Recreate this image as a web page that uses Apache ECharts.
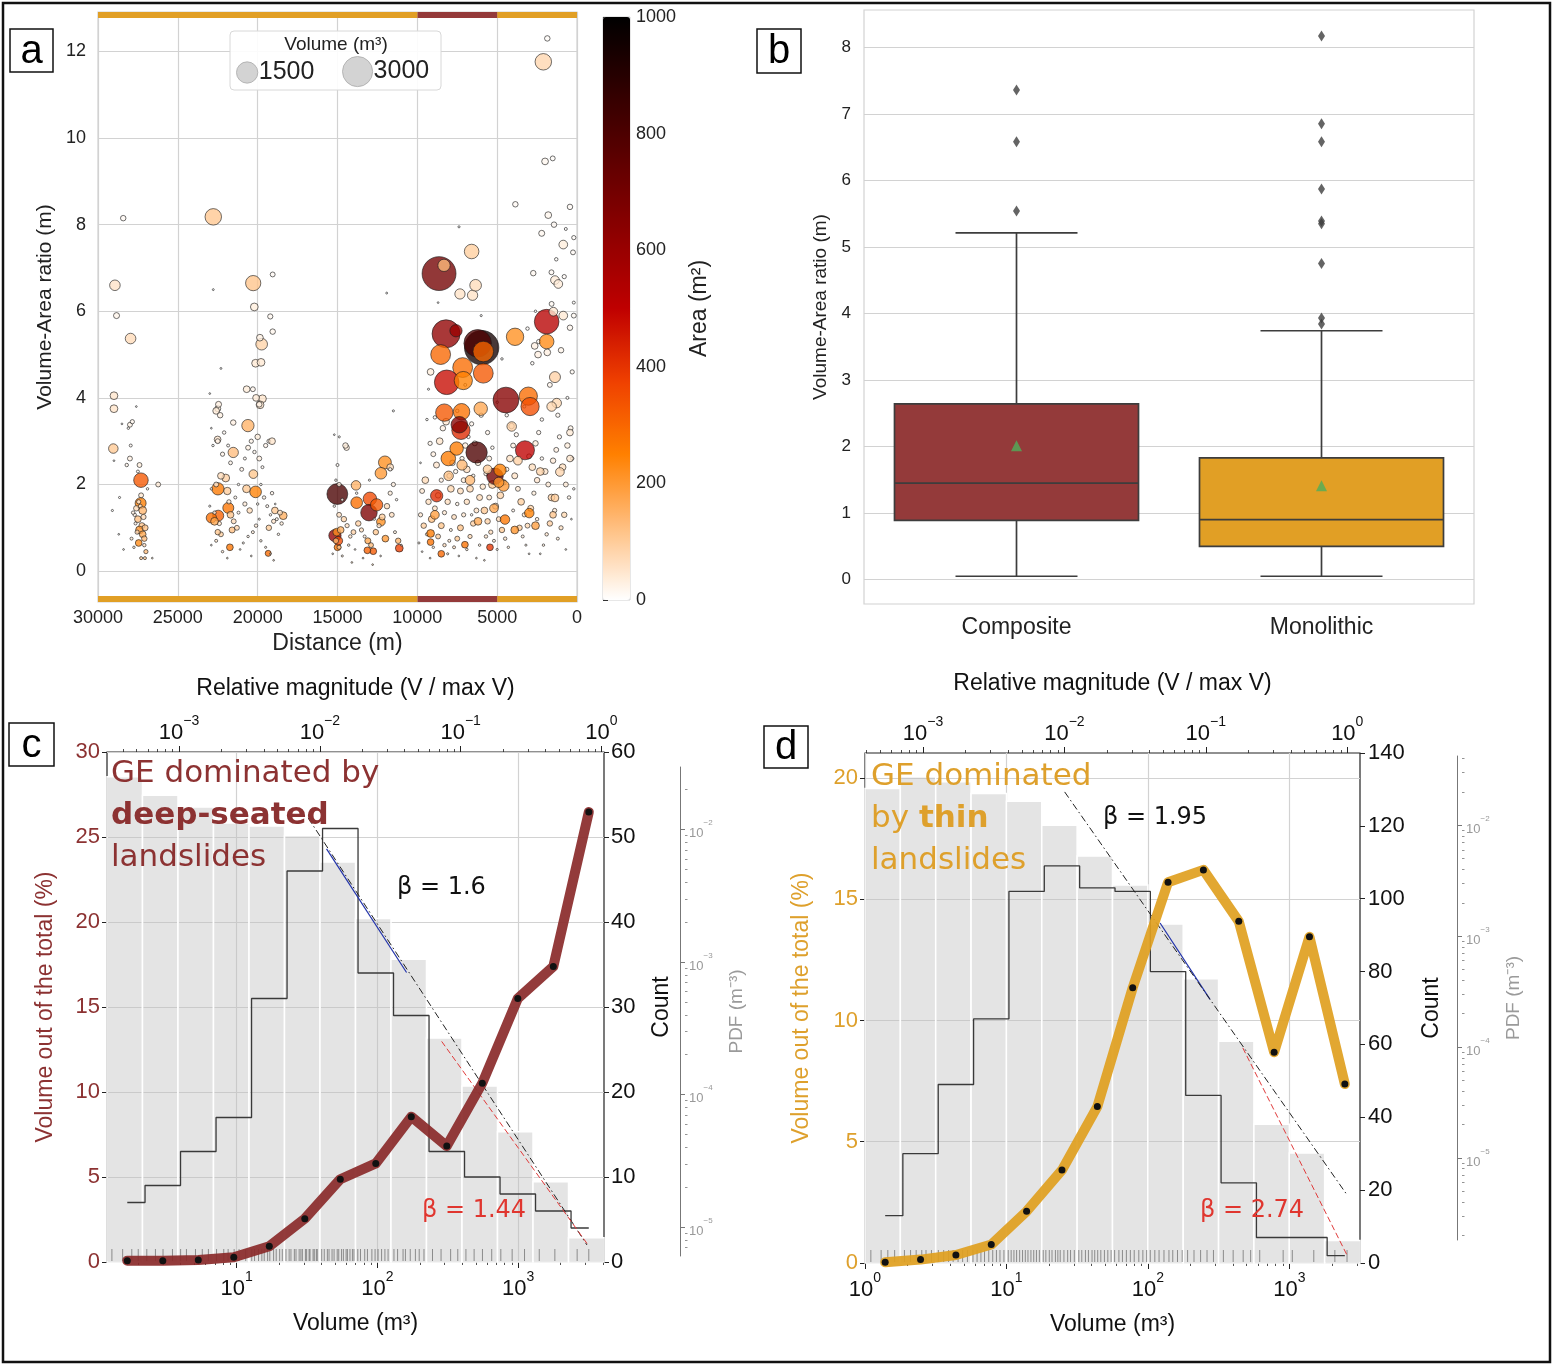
<!DOCTYPE html>
<html><head><meta charset="utf-8">
<script src="https://cdn.jsdelivr.net/npm/echarts@6/dist/echarts.min.js"></script>
<style>html,body{margin:0;padding:0;background:#fff}#c{width:1554px;height:1366px}</style>
</head><body><div id="c"></div>
<script>
// ---------------- Panel a ----------------
const aXTicks = [0, 5000, 10000, 15000, 20000, 25000, 30000];
const aYTicks = [0, 2, 4, 6, 8, 10, 12];
const aColorTicks = [0, 200, 400, 600, 800, 1000];
const aLegendVolumes = [1500, 3000];
const aSegments = [[0, 5000, 'Monolithic'], [5000, 10000, 'Composite'], [10000, 30000, 'Monolithic']];
// [distance (m), volume-area ratio (m), volume (m3), area (m2)]
const aPointsFar = [
 [28420,8.15,100,12],[28940,6.6,370,56],[28840,5.9,120,20],[27960,5.37,370,70],[29000,4.05,200,50],
 [29000,3.75,200,53],[28000,3.38,80,24],[29040,2.83,300,106],[27310,2.1,700,330],[27330,1.57,400,255],
 [26230,2.0,80,40],[27060,0.3,30,100],
 [28200,2.45,40,20],[28000,2.6,80,30],[27950,2.9,30,12],[28100,3.3,20,8],[27850,3.45,60,18],[27500,2.3,30,14],
 [27400,2.45,80,34],[27300,1.75,80,45],[27450,1.6,60,38],[27600,1.45,100,70],[27700,1.3,40,30],[27500,1.2,150,125],
 [27250,1.05,120,115],[27400,0.95,200,210],[27200,0.85,150,175],[27550,0.9,60,66],[27100,0.75,100,133],
 [27650,1.1,30,27],[27800,1.35,40,30],[27350,1.5,50,33],[27150,1.25,90,72],[27050,1.0,120,120],[27100,0.6,40,66],
 [27000,0.45,60,133],[27300,0.3,30,100],[26900,1.9,20,10],[29100,1.4,15,10],[28700,0.85,10,11],[28400,0.5,10,20],
 [29000,2.55,10,4],[28650,1.7,15,9],[27600,3.8,10,3],[28500,3.4,10,3],[26600,0.3,10,33],[27900,0.75,30,40],
 [27750,0.55,20,36],[27450,0.65,150,230],[27200,1.4,200,143]
];
const aPointsMid = [
 [22780,8.18,900,110],[22780,6.5,12,2],[20280,6.65,770,115],[19060,6.85,80,12],[20210,6.1,200,33],[19210,5.88,90,15],
 [19060,5.53,100,18],[19750,5.24,450,86],[19860,5.39,150,28],[20130,4.8,200,42],[19790,4.82,200,42],[22300,4.68,12,3],
 [19700,3.98,200,50],[19850,3.84,200,52],[20690,4.2,150,36],[20610,3.36,500,150],[21530,3.43,100,29],[22500,3.75,120,32],
 [21530,2.74,350,128],[22510,3.04,150,49],[22490,1.9,500,263],[22470,1.28,400,312],[22900,1.23,350,285],[21840,1.46,400,274],
 [21740,0.55,150,272],[20130,1.83,450,246],[20270,2.24,250,112],[19340,0.41,120,293],[18400,1.28,200,156],[18920,1.4,150,107],
 [23000,4.1,10,2],[22900,3.3,10,3],[22600,3.7,150,40],[22450,3.85,120,31],[22350,3.6,100,28],[22500,3.0,80,27],
 [22800,2.9,20,7],[22200,2.7,60,22],[22100,3.2,40,12],[21850,2.9,30,10],[21700,2.5,50,20],[22000,2.15,200,93],
 [22300,2.2,150,68],[22600,2.0,80,40],[22900,1.9,20,10],[23000,1.5,15,10],[22700,1.35,40,30],[22400,1.1,60,55],
 [22300,0.85,80,94],[22600,0.7,30,43],[22900,0.6,10,17],[22200,0.45,20,44],[21900,0.3,10,33],[21600,0.95,120,126],
 [21500,1.15,80,70],[21800,1.6,60,38],[21400,1.7,30,18],[21200,2.0,20,10],[21000,2.35,50,21],[20800,2.6,30,12],
 [20600,2.85,80,28],[20400,3.0,60,20],[20200,2.75,40,15],[20000,3.1,100,32],[19900,2.6,80,31],[19700,2.4,30,12],
 [19500,2.9,60,21],[19300,3.0,50,17],[19800,2.0,20,10],[19600,1.7,40,24],[19400,1.5,30,20],[19200,1.3,20,15],
 [19000,1.15,60,52],[18800,1.2,30,25],[18600,1.35,80,60],[18500,1.1,40,36],[19900,1.2,15,12],[20100,1.05,40,38],
 [20300,0.9,30,33],[20600,0.8,20,25],[20900,0.65,15,23],[21100,0.5,10,20],[19800,0.7,20,28],[19500,0.55,15,27],
 [19200,0.4,10,25],[20500,1.4,100,71],[20800,1.55,60,39],[21200,1.35,30,22],[20000,1.55,20,13],[19100,1.8,40,22],
 [18900,1.55,10,6],[20400,0.35,10,28],[19000,0.25,10,40],[22700,1.15,200,174],[22500,0.9,100,111],[21700,1.3,150,115],
 [21300,1.0,80,80],[20700,1.9,200,105],[21900,1.85,180,97],[19300,1.0,100,100],[18700,0.85,20,23],[20100,4.0,150,37],
 [19900,3.85,100,26],[20300,4.2,80,19],[19100,3.0,150,50]
];
const aPointsNear = [
 [15010,1.78,1440,810],[15160,0.82,500,610],[13800,1.58,450,285],[13840,1.98,300,150],[12970,1.67,600,360],
 [13030,1.35,900,670],[12550,1.53,500,330],[12030,2.51,550,220],[12280,2.26,450,200],[11700,2.4,150,63],
 [12280,1.14,250,220],[11130,0.53,200,380],[12760,0.46,150,326],[13130,0.48,150,312],[14430,2.85,100,35],
 [14890,3.1,15,5],[11500,3.7,15,4],[11920,6.42,12,2],[15000,0.55,150,273],[14950,0.7,250,357],[15050,0.9,200,222],
 [15200,3.15,10,3],[15000,2.45,30,12],[14500,2.9,100,34],[15100,2.1,20,10],[14900,2.0,60,30],[14700,1.65,30,18],
 [15200,1.5,20,13],[14900,1.3,80,62],[14600,1.2,100,83],[14400,1.05,60,57],[14800,0.95,150,158],[15100,0.7,100,143],
 [14900,0.55,60,109],[15300,0.4,10,25],[14700,0.35,15,43],[14300,0.6,20,33],[14200,0.8,40,50],[14000,0.9,80,89],
 [13700,1.1,100,91],[13500,0.95,60,63],[13300,0.8,30,37],[13100,0.7,120,171],[12900,0.6,80,133],[12600,0.9,100,111],
 [12400,1.05,60,57],[12200,1.25,120,96],[11900,1.5,100,67],[11700,1.8,60,33],[11600,1.3,80,62],[11400,0.9,30,33],
 [11200,0.7,100,143],[12000,0.75,150,200],[12700,1.2,20,17],[13900,0.5,10,20],[13400,0.3,10,33],[12300,0.35,10,29],
 [13800,1.8,20,11],[13000,2.1,15,7],[11700,2.35,40,17],[11500,2.0,60,30],[11300,1.65,20,12],[11000,0.6,10,17],
 [14100,0.2,10,50],[12800,0.15,10,67]
];
const aPointsValleySmall = [
 [9700,1.85,80,43],[9500,2.1,150,71],[9300,1.6,100,63],[9800,1.3,60,46],[9600,1.05,100,95],[9400,0.85,30,35],
 [9900,0.65,15,23],[9700,0.45,10,22],[9200,0.3,10,33],[9100,1.2,150,125],[8900,1.45,80,55],[8700,1.75,100,57],
 [8500,2.1,60,29],[8800,2.45,120,49],[9000,2.7,80,30],[9200,2.95,60,20],[8600,3.0,150,50],[8400,3.3,100,30],
 [8200,3.45,150,43],[8900,3.55,40,11],[8000,2.2,80,36],[7800,2.5,100,40],[7600,2.3,60,26],[7900,1.9,150,79],
 [8100,1.6,100,63],[8300,1.35,60,44],[8500,1.05,120,114],[8700,0.8,80,100],[8300,0.6,40,67],[8100,0.4,15,38],
 [7900,0.95,30,32],[7700,1.25,80,64],[7500,1.55,40,26],[7300,1.85,120,65],[7100,2.1,80,38],[6900,2.35,150,64],
 [7200,2.6,60,23],[7000,2.9,100,34],[6800,3.1,40,13],[6600,3.4,60,18],[6400,2.95,80,27],[6200,2.5,100,40],
 [6500,2.2,40,18],[6700,1.9,150,79],[6900,1.6,100,63],[7100,1.3,60,46],[7300,1.0,120,120],[7500,0.75,80,107],
 [7700,0.55,30,55],[7400,0.35,10,29],[6900,0.5,20,40],[6700,0.8,60,75],[6500,1.1,100,91],[6300,1.4,80,57],
 [6100,1.7,120,71],[5900,1.95,100,51],[5700,2.25,60,27],[5500,2.6,80,31],[5300,2.85,40,14],[5600,3.2,60,19],
 [5800,1.4,150,107],[5600,1.15,100,87],[5400,0.9,60,67],[5200,0.7,30,43],[5000,0.5,15,30],[6100,0.6,20,33],
 [6300,0.3,10,33],[5800,0.25,10,40],[5500,1.7,80,47],[5300,2.0,200,100],[5100,1.5,120,80],[4900,1.2,80,67],
 [4700,0.95,100,105],[4500,0.75,40,53],[4300,0.55,20,36],[4800,1.75,150,86],[4600,2.05,100,49],[4400,2.35,60,26],
 [4200,2.6,150,58],[4000,2.9,80,28],[3800,3.15,60,19],[4100,3.35,100,30],[4400,3.6,40,11],[3900,2.2,120,55],
 [3700,1.9,80,42],[3500,1.6,150,94],[3300,1.3,60,46],[3600,1.0,100,100],[3400,0.8,30,38],[3200,0.6,15,25],
 [3000,0.4,10,25],[3100,1.05,80,76],[2900,1.45,120,83],[2700,1.8,60,33],[2500,2.1,100,48],[2800,2.4,150,63],
 [3000,2.65,80,30],[2600,2.95,100,34],[2400,3.2,60,19],[2200,2.6,40,15],[2000,2.3,120,52],[1800,2.0,80,40],
 [1600,1.7,150,88],[1400,1.4,60,43],[1700,1.1,100,91],[1900,0.85,40,47],[2100,0.6,20,33],[2300,0.4,10,25],
 [1500,2.55,100,39],[1300,2.8,80,29],[1100,3.1,60,19],[900,2.4,150,63],[700,2.0,80,40],[500,1.7,40,24],
 [800,1.3,100,77],[1000,1.0,60,60],[1200,0.75,30,40],[600,2.9,100,34],[400,3.3,80,24],[300,2.6,40,15],
 [200,1.9,20,11],[350,1.2,10,8],[700,0.5,10,20],[2500,1.2,40,33],[4000,1.4,30,21],[5700,0.8,40,50],
 [6600,1.3,20,15],[8000,0.7,30,43],[9000,0.55,20,36],[2200,3.5,40,11],[1200,3.6,60,17],[3300,3.8,30,8],
 [5000,3.9,20,5],[6000,3.6,60,17],[7500,3.7,40,11],[9400,3.5,20,6],[9800,2.5,10,4],[600,4.0,30,8],
 [1700,4.3,80,19],[2800,4.8,40,8],[4700,4.9,20,4],[300,4.6,60,13],[1000,5.1,100,20],[2400,5.3,60,11],
 [3100,5.6,40,7],[800,6.8,60,9],[200,6.2,30,5],[2600,6.0,20,3],[1600,6.9,80,12],[6000,5.9,15,3],
 [9300,4.2,15,4],[7000,4.3,30,7],[8700,6.2,10,2],[1300,7.2,40,6],[700,7.9,30,4]
];
const aPointsValleyLarge = [
 [8640,6.87,3800,700],[8330,7.06,500,130],[6600,7.38,700,95],[7330,6.4,350,55],[6540,6.37,350,55],[6350,6.6,450,68],
 [8200,5.48,2600,620],[7580,5.55,500,600],[8540,5.0,1300,300],[5970,5.16,3900,950],[6220,5.26,2500,800],
 [5870,5.07,1400,300],[7160,4.7,1300,290],[5870,4.57,1300,330],[8160,4.36,2000,480],[7120,4.4,1100,250],
 [9170,4.6,150,33],[4450,3.95,2200,650],[3050,4.04,1100,290],[2940,3.8,1100,350],[3880,5.41,1000,220],
 [1900,5.76,2000,520],[1900,5.3,700,230],[2110,11.76,900,80],[1860,12.3,100,8],[2000,9.46,150,16],[1520,9.53,80,8],
 [3860,8.47,100,12],[1800,8.22,150,18],[1440,8.0,100,12],[440,8.41,100,12],[2210,7.8,120,15],[860,7.54,250,33],
 [2740,6.88,100,15],[1380,6.72,250,37],[1170,6.63,250,38],[7390,7.95,15,2],[1480,5.99,250,42],[860,5.9,250,42],
 [8310,3.66,1000,330],[7230,3.68,900,280],[7270,3.25,1100,420],[7370,3.38,900,650],[6030,3.75,600,170],
 [6290,2.74,1500,800],[8060,2.6,700,260],[7540,2.83,600,260],[3260,2.79,1200,500],[4090,3.34,300,90],
 [5140,2.19,900,700],[4820,2.33,500,250],[4600,1.97,400,200],[4900,2.05,350,210],[8790,1.74,500,420],
 [2990,1.34,300,250],[4510,1.19,300,270],[9170,0.87,200,260],[9170,0.67,150,280],[7020,0.61,150,280],
 [5450,0.55,150,400],[1070,2.29,250,80],[1380,1.69,200,100],[440,3.2,150,40],[440,2.6,150,50],[250,7.36,80,11],
 [200,7.7,60,8],[200,5.9,80,13],[1270,3.88,300,77],[1590,3.8,300,79],[1380,4.48,400,89],[2440,5.0,150,30],
 [2650,5.2,150,30],[1860,5.05,150,30],[1590,6.17,80,13],[440,5.62,100,18],[8040,2.2,300,120],[7200,2.45,350,140],
 [6700,2.1,300,140],[5600,2.35,250,100],[3700,2.55,250,90],[2300,2.3,200,85],[8900,1.3,250,190],[8500,0.4,150,300],
 [6200,1.15,200,170],[5200,1.45,250,170],[3900,0.95,200,210],[2600,1.05,200,190],[1500,1.3,150,115]
];

// ---------------- Panel b ----------------
const bCategories = ['Composite', 'Monolithic'];
const bYTicks = [0, 1, 2, 3, 4, 5, 6, 7, 8];
// [lower whisker, Q1, median, Q3, upper whisker]
const bBoxStats = [[0.05, 0.89, 1.45, 2.64, 5.21], [0.05, 0.5, 0.9, 1.83, 3.74]];
const bMeans = [2.01, 1.41];
const bOutliersComposite = [5.54, 6.58, 7.36];
const bOutliersMonolithic = [3.84, 3.93, 4.75, 5.35, 5.39, 5.87, 6.58, 6.85, 8.17];

// ---------------- Panel c (Composite) ----------------
const cBinEdges = [1.2, 2.144, 3.832, 6.848, 12.24, 21.87, 39.08, 69.85, 124.8, 223.0, 398.6, 712.3, 1273, 2275, 4065];
const cBinCenters = [1.672, 2.988, 5.34, 9.544, 17.06, 30.48, 54.47, 97.3, 173.9, 310.8, 555.5, 992.7, 1774, 3170];
const cCounts = [7, 9, 13, 17, 31, 46, 51, 34, 29, 13, 10, 8, 6, 4];
const cVolumePct = [0.08, 0.08, 0.12, 0.28, 0.93, 2.55, 4.87, 5.8, 8.55, 6.82, 10.52, 15.5, 17.38, 26.47];
const cPdf = [0.02506, 0.01818, 0.01483, 0.01122, 0.01065, 0.00904, 0.00569, 0.002137, 0.00105, 0.000267, 0.0001161, 0.0000525, 0.000022, 0.00000832];
const cFitAll = [[32.2, 0.01225], [3076, 0.00000733]];
const cFitCore = [[43.5, 0.00716], [161, 0.000834]];
const cFitTail = [[285.8, 0.000252], [3090, 0.00000748]];
const cRug = [1.3,1.55,1.8,2.0,2.3,2.65,3.0,3.5,4.0,4.4,5.1,5.7,6.3,7.2,8.1,8.7,9.6,10.4,11.6,12.8,13.4,14.3,15.1,15.7,
 16.6,17.2,18.3,19.1,20.2,21.1,22.4,23.6,24.3,25.7,26.4,27.8,28.6,29.3,30.8,31.4,32.7,33.2,34.9,35.6,36.8,37.4,
 40.2,41.9,44.1,45.3,47.6,49.2,51.8,53.1,55.6,57.3,59.9,61.2,63.8,66.4,68.1,72.5,75.8,81.2,84.9,91.3,96.2,101,
 107,113,119,131,139,152,158,171,186,198,214,246,283,331,372,425,486,557,648,752,905,1108,1410,1820,2620,3170];

// ---------------- Panel d (Monolithic) ----------------
const dBinEdges = [1, 1.778, 3.162, 5.623, 10, 17.78, 31.62, 56.23, 100, 177.8, 316.2, 562.3, 1000, 1778, 3162];
const dBinCenters = [1.389, 2.47, 4.393, 7.812, 13.89, 24.7, 43.93, 78.12, 138.9, 247, 439.3, 781.2, 1389, 2470];
const dCounts = [13, 30, 49, 67, 102, 109, 103, 102, 80, 46, 22, 7, 7, 2];
const dVolumePct = [0.03, 0.14, 0.33, 0.76, 2.13, 3.83, 6.45, 11.35, 15.7, 16.21, 14.09, 8.69, 13.45, 7.38];
const dPdf = [0.02143, 0.02731, 0.0246, 0.01932, 0.01645, 0.00998, 0.00527, 0.00289, 0.001285, 0.000413, 0.0001125, 0.0000201, 0.0000111, 0.0000018];
const dFitAll = [[25.8, 0.01997], [2570, 0.00000461]];
const dFitCore = [[122, 0.001312], [275, 0.000269]];
const dFitTail = [[469, 0.0000982], [2570, 0.000001315]];
const dRug = [1.1,1.3,1.45,1.62,1.9,2.1,2.3,2.52,2.7,2.95,3.3,3.6,3.9,4.2,4.55,4.9,5.3,5.8,6.2,6.6,7.0,7.5,8.0,8.5,9.0,9.6,
 10.3,10.8,11.3,11.8,12.4,13.0,13.6,14.2,14.9,15.6,16.3,17.1,18.2,19.0,20.1,21.0,22.2,23.1,24.0,25.5,27.1,28.4,30.2,
 32.5,34.1,36.2,38.0,40.3,42.1,44.2,46.5,49.3,52.1,55.0,58.2,62.4,66.1,70.5,75.2,80.1,86.3,92.2,98.1,104,112,120,130,
 141,150,162,175,191,212,236,262,291,342,401,472,533,618,905,1050,1490,2100,2560];

// shared tick value lists
const logMajorBottomC = [10, 100, 1000];
const logMinorBottomC = [2,3,4,5,6,7,8,9,20,30,40,50,60,70,80,90,200,300,400,500,600,700,800,900,2000,3000,4000];
const logMajorBottomD = [1, 10, 100, 1000];
const logMinorBottomD = [2,3,4,5,6,7,8,9,20,30,40,50,60,70,80,90,200,300,400,500,600,700,800,900,2000,3000];
const relMajor = [0.001, 0.01, 0.1, 1];
const relMinor = [0.0004,0.0005,0.0006,0.0007,0.0008,0.0009,0.002,0.003,0.004,0.005,0.006,0.007,0.008,0.009,
 0.02,0.03,0.04,0.05,0.06,0.07,0.08,0.09,0.2,0.3,0.4,0.5,0.6,0.7,0.8,0.9];
const pdfMajor = [0.00001, 0.0001, 0.001, 0.01];
const pdfMinor = [0.000002,0.000003,0.000004,0.000005,0.000006,0.000007,0.000008,0.000009,
 0.00002,0.00003,0.00004,0.00005,0.00006,0.00007,0.00008,0.00009,0.0002,0.0003,0.0004,0.0005,0.0006,0.0007,0.0008,0.0009,
 0.002,0.003,0.004,0.005,0.006,0.007,0.008,0.009,0.02,0.03,0.04];
const cPctTicks = [0, 5, 10, 15, 20, 25, 30];
const dPctTicks = [0, 5, 10, 15, 20];
const cRelMax = 3900, dRelMax = 2570;

// ---------------- styling ----------------
const SANS = '"Liberation Sans", Arial, sans-serif';
const VERD = '"DejaVu Sans", Verdana, sans-serif';
const RED = '#8c3232', GOLD = '#dea02c', GRID = '#d2d2d2';
const heatR = ['#ffffff','#ffbf80','#ff8000','#ef4000','#bf0000','#8f0000','#600000','#300000','#000000'];
const kSize = 0.55;
const plain = v => String(v);

function supRich(size, color) {
  return {
    b: {fontSize: size, color: color, fontFamily: SANS, lineHeight: size + 8, verticalAlign: 'bottom'},
    s: {fontSize: Math.round(size * 0.64), color: color, fontFamily: SANS, lineHeight: size + 8, verticalAlign: 'top'}
  };
}
function pow10(v) {
  const e = Math.round(Math.log10(v));
  return '{b|10}{s|' + String(e).replace('-', '\u2212') + '}';
}

const chart = echarts.init(document.getElementById('c'));

function logX(gridIndex, min, max, major, minor, pos, extra) {
  return [Object.assign({
    gridIndex, type: 'log', logBase: 10, min, max, position: pos,
    axisLine: {show: false},
    axisTick: {show: true, customValues: major, length: 6, lineStyle: {color: '#222', width: 1}},
    axisLabel: {customValues: major, formatter: pow10, rich: supRich(22, '#111'), margin: 8},
    splitLine: {show: false}
  }, extra), {
    gridIndex, type: 'log', logBase: 10, min, max, position: pos,
    axisLine: {show: false},
    axisTick: {show: true, customValues: minor, length: 3, lineStyle: {color: '#222', width: 0.8}},
    axisLabel: {show: false}, splitLine: {show: false}
  }];
}

function pdfAxes(gridIndex, min, max) {
  return [{
    gridIndex, type: 'log', logBase: 10, min, max, position: 'right',
    axisLine: {show: true, lineStyle: {color: '#777', width: 1}},
    axisTick: {show: true, customValues: pdfMajor, length: 5, lineStyle: {color: '#777'}},
    axisLabel: {customValues: pdfMajor, formatter: pow10, rich: supRich(13, '#999'), margin: 4},
    splitLine: {show: false},
    name: 'PDF (m\u207B\u00B3)', nameLocation: 'middle', nameRotate: 90, nameGap: 42,
    nameTextStyle: {fontSize: 19, color: '#9a9a9a', fontFamily: SANS}
  }, {
    gridIndex, type: 'log', logBase: 10, min, max, position: 'right',
    axisLine: {show: false},
    axisTick: {show: true, customValues: pdfMinor, length: 2.5, lineStyle: {color: '#777', width: 0.8}},
    axisLabel: {show: false}, splitLine: {show: false}
  }];
}

const cXMin = cBinEdges[0], cXMax = cBinEdges[cBinEdges.length - 1];
const dXMin = dBinEdges[0], dXMax = dBinEdges[dBinEdges.length - 1];

const xAxes = [
  // 0 panel a
  {gridIndex: 0, type: 'value', min: 0, max: 30000, inverse: true,
   axisLine: {show: false}, axisTick: {show: false, customValues: aXTicks},
   axisLabel: {customValues: aXTicks, formatter: plain, fontSize: 18, color: '#222', fontFamily: SANS, margin: 7},
   splitLine: {show: true, lineStyle: {color: GRID, width: 1.2}},
   name: 'Distance (m)', nameLocation: 'middle', nameGap: 30,
   nameTextStyle: {fontSize: 23, color: '#222', fontFamily: SANS}},
  // 1 colorbar
  {gridIndex: 1, type: 'value', show: false, min: 0, max: 1},
  // 2 panel b
  {gridIndex: 2, type: 'category', data: bCategories, axisLine: {show: false}, axisTick: {show: false},
   axisLabel: {fontSize: 23, color: '#222', fontFamily: SANS, margin: 12}, splitLine: {show: false}},
  // 3,4 panel c bottom
  ...logX(3, cXMin, cXMax, logMajorBottomC, logMinorBottomC, 'bottom', {
    splitLine: {show: true, lineStyle: {color: GRID, width: 1.2}},
    name: 'Volume (m\u00B3)', nameLocation: 'middle', nameGap: 50,
    nameTextStyle: {fontSize: 23, color: '#111', fontFamily: SANS}}),
  // 5,6 panel c top
  ...logX(3, cXMin / cRelMax, cXMax / cRelMax, relMajor, relMinor, 'top', {
    name: 'Relative magnitude (V / max V)', nameLocation: 'middle', nameGap: 52,
    nameTextStyle: {fontSize: 23, color: '#111', fontFamily: SANS}}),
  // 7 c pdf grid
  {gridIndex: 4, type: 'value', show: false, min: 0, max: 1},
  // 8,9 panel d bottom
  ...logX(5, dXMin, dXMax, logMajorBottomD, logMinorBottomD, 'bottom', {
    splitLine: {show: true, lineStyle: {color: GRID, width: 1.2}},
    name: 'Volume (m\u00B3)', nameLocation: 'middle', nameGap: 50,
    nameTextStyle: {fontSize: 23, color: '#111', fontFamily: SANS}}),
  // 10,11 panel d top
  ...logX(5, dXMin / dRelMax, dXMax / dRelMax, relMajor, relMinor, 'top', {
    name: 'Relative magnitude (V / max V)', nameLocation: 'middle', nameGap: 58,
    nameTextStyle: {fontSize: 23, color: '#111', fontFamily: SANS}}),
  // 12 d pdf grid
  {gridIndex: 6, type: 'value', show: false, min: 0, max: 1}
];

const cPdfLo = 5.452e-6, cPdfHi = 0.03852, dPdfLo = 1.128e-6, dPdfHi = 0.0448;

const yAxes = [
  // 0 panel a
  {gridIndex: 0, type: 'value', min: -0.713, max: 12.91,
   axisLine: {show: false}, axisTick: {show: false, customValues: aYTicks},
   axisLabel: {customValues: aYTicks, fontSize: 18, color: '#222', fontFamily: SANS, margin: 12},
   splitLine: {show: true, lineStyle: {color: GRID, width: 1.2}},
   name: 'Volume-Area ratio (m)', nameLocation: 'middle', nameRotate: 90, nameGap: 42,
   nameTextStyle: {fontSize: 21, color: '#222', fontFamily: SANS}},
  // 1 colorbar
  {gridIndex: 1, type: 'value', min: 0, max: 1000, position: 'right',
   axisLine: {show: false}, axisTick: {show: true, customValues: aColorTicks, length: 5, lineStyle: {color: '#333'}},
   axisLabel: {customValues: aColorTicks, formatter: plain, fontSize: 18, color: '#222', fontFamily: SANS, margin: 6},
   splitLine: {show: false},
   name: 'Area (m\u00B2)', nameLocation: 'middle', nameRotate: 90, nameGap: 58,
   nameTextStyle: {fontSize: 23, color: '#222', fontFamily: SANS}},
  // 2 panel b
  {gridIndex: 2, type: 'value', min: -0.367, max: 8.561,
   axisLine: {show: false}, axisTick: {show: false, customValues: bYTicks},
   axisLabel: {customValues: bYTicks, fontSize: 17, color: '#222', fontFamily: SANS, margin: 13},
   splitLine: {show: true, lineStyle: {color: GRID, width: 1.2}},
   name: 'Volume-Area ratio (m)', nameLocation: 'middle', nameRotate: 90, nameGap: 34,
   nameTextStyle: {fontSize: 19, color: '#222', fontFamily: SANS}},
  // 3 c percent
  {gridIndex: 3, type: 'value', min: 0, max: 30, position: 'left',
   axisLine: {show: false}, axisTick: {show: true, customValues: cPctTicks, length: 5, lineStyle: {color: '#222'}},
   axisLabel: {customValues: cPctTicks, fontSize: 22, color: RED, fontFamily: SANS, margin: 7},
   splitLine: {show: true, lineStyle: {color: GRID, width: 1.2}},
   name: 'Volume out of the total (%)', nameLocation: 'middle', nameRotate: 90, nameGap: 50,
   nameTextStyle: {fontSize: 23, color: RED, fontFamily: SANS}},
  // 4 c count
  {gridIndex: 3, type: 'value', min: 0, max: 60, interval: 10, position: 'right',
   axisLine: {show: false}, axisTick: {show: true, length: 5, lineStyle: {color: '#222'}},
   axisLabel: {fontSize: 22, color: '#111', fontFamily: SANS, margin: 7},
   splitLine: {show: false},
   name: 'Count', nameLocation: 'middle', nameRotate: 90, nameGap: 46,
   nameTextStyle: {fontSize: 23, color: '#111', fontFamily: SANS}},
  // 5 c pdf (hidden, plotting)
  {gridIndex: 3, type: 'log', logBase: 10, min: cPdfLo, max: cPdfHi, show: false},
  // 6,7 c visible pdf axis
  ...pdfAxes(4, 6.05e-6, 0.02969),
  // 8 d percent
  {gridIndex: 5, type: 'value', min: 0, max: 21.03, position: 'left',
   axisLine: {show: false}, axisTick: {show: true, customValues: dPctTicks, length: 5, lineStyle: {color: '#222'}},
   axisLabel: {customValues: dPctTicks, fontSize: 22, color: GOLD, fontFamily: SANS, margin: 7},
   splitLine: {show: true, lineStyle: {color: GRID, width: 1.2}},
   name: 'Volume out of the total (%)', nameLocation: 'middle', nameRotate: 90, nameGap: 52,
   nameTextStyle: {fontSize: 23, color: GOLD, fontFamily: SANS}},
  // 9 d count
  {gridIndex: 5, type: 'value', min: 0, max: 140, interval: 20, position: 'right',
   axisLine: {show: false}, axisTick: {show: true, length: 5, lineStyle: {color: '#222'}},
   axisLabel: {fontSize: 22, color: '#111', fontFamily: SANS, margin: 8},
   splitLine: {show: false},
   name: 'Count', nameLocation: 'middle', nameRotate: 90, nameGap: 60,
   nameTextStyle: {fontSize: 23, color: '#111', fontFamily: SANS}},
  // 10 d pdf hidden
  {gridIndex: 5, type: 'log', logBase: 10, min: dPdfLo, max: dPdfHi, show: false},
  // 11,12 d visible pdf axis
  ...pdfAxes(6, 1.82e-6, 0.0421)
];

function barsSeries(xIdx, yIdx, edges, pdf) {
  return {
    type: 'custom', xAxisIndex: xIdx, yAxisIndex: yIdx, z: 1, silent: true,
    data: pdf.map((p, i) => [edges[i], edges[i + 1], p]),
    encode: {x: [0, 1], y: 2},
    renderItem: (params, api) => {
      const p0 = api.coord([api.value(0), api.value(2)]);
      const p1 = api.coord([api.value(1), api.value(2)]);
      const cs = params.coordSys;
      const bottom = cs.y + cs.height;
      return {type: 'rect', shape: {x: p0[0], y: p0[1], width: p1[0] - p0[0], height: bottom - p0[1]},
        style: {fill: 'rgba(190,190,190,0.42)', stroke: '#ffffff', lineWidth: 1.5}};
    }
  };
}
function rugSeries(xIdx, yIdx, values) {
  return {
    type: 'custom', xAxisIndex: xIdx, yAxisIndex: yIdx, z: 3, silent: true,
    data: values.map(v => [v]), encode: {x: 0},
    renderItem: (params, api) => {
      const x = api.coord([api.value(0), 1])[0];
      const cs = params.coordSys;
      const b = cs.y + cs.height;
      return {type: 'line', shape: {x1: x, y1: b - 1, x2: x, y2: b - 13},
        style: {stroke: 'rgba(30,30,30,0.45)', lineWidth: 1}};
    }
  };
}
function lineSeries(xIdx, yIdx, data, color, width, type, z) {
  return {type: 'line', xAxisIndex: xIdx, yAxisIndex: yIdx, data, symbol: 'none', silent: true, z: z || 4,
    lineStyle: {color, width, type: type || 'solid'}};
}
function volSeries(xIdx, yIdx, centers, pct, color) {
  return {type: 'line', xAxisIndex: xIdx, yAxisIndex: yIdx, z: 8, silent: true,
    data: centers.map((c, i) => [c, pct[i]]),
    symbol: 'circle', symbolSize: 7, itemStyle: {color: '#111'},
    lineStyle: {color, width: 10, opacity: 0.92, cap: 'round', join: 'round'}};
}
function stepSeries(xIdx, yIdx, centers, counts) {
  return {type: 'line', xAxisIndex: xIdx, yAxisIndex: yIdx, z: 5, silent: true, step: 'middle',
    data: centers.map((c, i) => [c, counts[i]]), symbol: 'none',
    lineStyle: {color: '#3a3a3a', width: 1.3}};
}

const aAll = [].concat(aPointsFar, aPointsMid, aPointsNear, aPointsValleySmall, aPointsValleyLarge);
const bColors = ['#943a3a', '#e19f25'];

const series = [
  // 0 scatter
  {type: 'scatter', xAxisIndex: 0, yAxisIndex: 0, data: aAll, silent: true, z: 3,
   symbolSize: v => kSize * Math.sqrt(v[2]),
   itemStyle: {opacity: 0.78, borderColor: '#1a1a1a', borderWidth: 0.8}},
  // 1,2 legend dummies
  {type: 'scatter', name: String(aLegendVolumes[0]), xAxisIndex: 0, yAxisIndex: 0, data: [], itemStyle: {color: '#c4c4c4'}},
  {type: 'scatter', name: String(aLegendVolumes[1]), xAxisIndex: 0, yAxisIndex: 0, data: [], itemStyle: {color: '#c4c4c4'}},
  // 3 segments top/bottom
  {type: 'custom', xAxisIndex: 0, yAxisIndex: 0, z: 6, silent: true,
   data: aSegments.map(s => [s[0], s[1], s[2] === 'Composite' ? 0 : 1]), encode: {x: [0, 1]},
   renderItem: (params, api) => {
     const x0 = api.coord([api.value(0), 0])[0], x1 = api.coord([api.value(1), 0])[0];
     const cs = params.coordSys;
     const fill = bColors[api.value(2)];
     const l = Math.min(x0, x1), w = Math.abs(x1 - x0);
     return {type: 'group', children: [
       {type: 'rect', shape: {x: l, y: cs.y, width: w, height: 6}, style: {fill}},
       {type: 'rect', shape: {x: l, y: cs.y + cs.height - 6, width: w, height: 6}, style: {fill}}
     ]};
   }},
  // 4 boxes
  {type: 'custom', xAxisIndex: 2, yAxisIndex: 2, z: 3, silent: true,
   data: bBoxStats.map((s, i) => [i].concat(s)), encode: {x: 0, y: [1, 2, 3, 4, 5]},
   renderItem: (params, api) => {
     const i = api.value(0);
     const P = k => api.coord([i, api.value(k)]);
     const pMin = P(1), pQ1 = P(2), pMed = P(3), pQ3 = P(4), pMax = P(5);
     const band = api.size([1, 0])[0];
     const w = band * 0.8, cx = pMed[0];
     const st = {stroke: '#3d3d3d', lineWidth: 1.7};
     return {type: 'group', children: [
       {type: 'line', shape: {x1: cx, y1: pQ1[1], x2: cx, y2: pMin[1]}, style: st},
       {type: 'line', shape: {x1: cx, y1: pQ3[1], x2: cx, y2: pMax[1]}, style: st},
       {type: 'line', shape: {x1: cx - w / 4, y1: pMin[1], x2: cx + w / 4, y2: pMin[1]}, style: st},
       {type: 'line', shape: {x1: cx - w / 4, y1: pMax[1], x2: cx + w / 4, y2: pMax[1]}, style: st},
       {type: 'rect', shape: {x: cx - w / 2, y: pQ3[1], width: w, height: pQ1[1] - pQ3[1]},
        style: {fill: bColors[i], stroke: '#3d3d3d', lineWidth: 1.7}},
       {type: 'line', shape: {x1: cx - w / 2, y1: pMed[1], x2: cx + w / 2, y2: pMed[1]}, style: st}
     ]};
   }},
  // 5 outliers
  {type: 'scatter', xAxisIndex: 2, yAxisIndex: 2, z: 4, silent: true, symbol: 'diamond', symbolSize: [7, 11],
   itemStyle: {color: '#3d3d3d'},
   data: bOutliersComposite.map(v => [0, v]).concat(bOutliersMonolithic.map(v => [1, v]))},
  // 6 means
  {type: 'scatter', xAxisIndex: 2, yAxisIndex: 2, z: 5, silent: true, symbol: 'triangle', symbolSize: 11,
   itemStyle: {color: '#4fae5a'}, data: bMeans.map((v, i) => [i, v])},
  // panel c
  barsSeries(3, 5, cBinEdges, cPdf),
  rugSeries(3, 3, cRug),
  stepSeries(3, 4, cBinCenters, cCounts),
  lineSeries(3, 5, cFitCore, '#2233aa', 1.2, 'solid', 5),
  lineSeries(3, 5, cFitAll, '#222222', 1, [7, 3, 1.5, 3], 6),
  lineSeries(3, 5, cFitTail, '#e03a3a', 1, [6, 3], 6),
  volSeries(3, 3, cBinCenters, cVolumePct, '#8a2a2a'),
  // panel d
  barsSeries(8, 10, dBinEdges, dPdf),
  rugSeries(8, 8, dRug),
  stepSeries(8, 9, dBinCenters, dCounts),
  lineSeries(8, 10, dFitCore, '#2233aa', 1.2, 'solid', 5),
  lineSeries(8, 10, dFitAll, '#222222', 1, [7, 3, 1.5, 3], 6),
  lineSeries(8, 10, dFitTail, '#e03a3a', 1, [6, 3], 6),
  volSeries(8, 8, dBinCenters, dVolumePct, '#e0a020')
];

function labelBox(x, y, w, h, t) {
  return [{type: 'rect', shape: {x, y, width: w, height: h}, style: {fill: '#fff', stroke: '#111', lineWidth: 1.5}, z: 20},
    {type: 'text', x: x + w / 2, y: y + h / 2 + 1, z: 21,
     style: {text: t, fill: '#000', font: '40px ' + SANS, align: 'center', verticalAlign: 'middle'}}];
}

const lg1 = kSize * Math.sqrt(aLegendVolumes[0]), lg2 = kSize * Math.sqrt(aLegendVolumes[1]);

const option = {
  animation: false,
  backgroundColor: '#ffffff',
  grid: [
    {left: 98, top: 12, width: 479, height: 590, show: true, borderColor: GRID, borderWidth: 1.2, backgroundColor: '#fff'},
    {left: 603, top: 17, width: 27, height: 583, show: true, borderColor: '#cfcfcf', borderWidth: 1},
    {left: 864, top: 10, width: 610, height: 594, show: true, borderColor: GRID, borderWidth: 1.2},
    {left: 107, top: 752, width: 497, height: 510, show: true, borderColor: '#222', borderWidth: 1.2},
    {left: 680, top: 767, width: 5, height: 489},
    {left: 865, top: 753, width: 495, height: 510, show: true, borderColor: '#222', borderWidth: 1.2},
    {left: 1457, top: 756, width: 5, height: 484}
  ],
  xAxis: xAxes,
  yAxis: yAxes,
  visualMap: [{type: 'continuous', min: 0, max: 1000, dimension: 3, seriesIndex: 0,
    inRange: {color: heatR}, left: 603, top: 17, itemWidth: 27, itemHeight: 583,
    calculable: false, padding: 0, hoverLink: false, z: 5}],
  legend: [
    {data: [String(aLegendVolumes[0])], left: 236, top: 60, icon: 'circle', itemWidth: lg1, itemHeight: lg1,
     selectedMode: false, padding: 0, z: 12, itemStyle: {color: '#c8c8c8', borderColor: '#aaa', borderWidth: 1},
     textStyle: {fontSize: 25, color: '#222', fontFamily: SANS, padding: [0, 0, 0, -4]}},
    {data: [String(aLegendVolumes[1])], left: 342, top: 56, icon: 'circle', itemWidth: lg2, itemHeight: lg2,
     selectedMode: false, padding: 0, z: 12, itemStyle: {color: '#c8c8c8', borderColor: '#aaa', borderWidth: 1},
     textStyle: {fontSize: 25, color: '#222', fontFamily: SANS, padding: [0, 0, 0, -4]}}
  ],
  series,
  graphic: [
    {type: 'rect', shape: {x: 3, y: 3, width: 1547, height: 1359}, style: {fill: 'none', stroke: '#111', lineWidth: 2.5}, z: 30, silent: true},
    {type: 'rect', shape: {x: 230, y: 31, width: 211, height: 59, r: 4}, style: {fill: 'rgba(255,255,255,0.9)', stroke: '#d8d8d8', lineWidth: 1}, z: 10},
    {type: 'text', x: 336, y: 45, z: 12, style: {text: 'Volume (m\u00B3)', fill: '#222', font: '19px ' + SANS, align: 'center', verticalAlign: 'middle'}},
    ...labelBox(10, 29, 43, 43, 'a'),
    ...labelBox(757, 29, 44, 44, 'b'),
    ...labelBox(9, 723, 45, 43, 'c'),
    ...labelBox(764, 726, 44, 42, 'd'),
    {type: 'text', left: 111, top: 758, z: 15, style: {
      text: '{n|GE dominated by}\n{b|deep-seated}\n{n|landslides}',
      rich: {n: {fontSize: 31, fontFamily: VERD, fill: RED, lineHeight: 42},
             b: {fontSize: 31, fontFamily: VERD, fontWeight: 'bold', fill: RED, lineHeight: 42}}}},
    {type: 'text', left: 871, top: 761, z: 15, style: {
      text: '{n|GE dominated}\n{n|by }{b|thin}\n{n|landslides}',
      rich: {n: {fontSize: 31, fontFamily: VERD, fill: GOLD, lineHeight: 42},
             b: {fontSize: 31, fontFamily: VERD, fontWeight: 'bold', fill: GOLD, lineHeight: 42}}}},
    {type: 'text', left: 397, top: 876, z: 15, style: {text: '\u03B2 = 1.6', fill: '#111', font: '24px ' + VERD}},
    {type: 'text', left: 422, top: 1199, z: 15, style: {text: '\u03B2 = 1.44', fill: '#e0362f', font: '24px ' + VERD}},
    {type: 'text', left: 1103, top: 806, z: 15, style: {text: '\u03B2 = 1.95', fill: '#111', font: '24px ' + VERD}},
    {type: 'text', left: 1200, top: 1199, z: 15, style: {text: '\u03B2 = 2.74', fill: '#e0362f', font: '24px ' + VERD}}
  ]
};
chart.setOption(option);
</script></body></html>
